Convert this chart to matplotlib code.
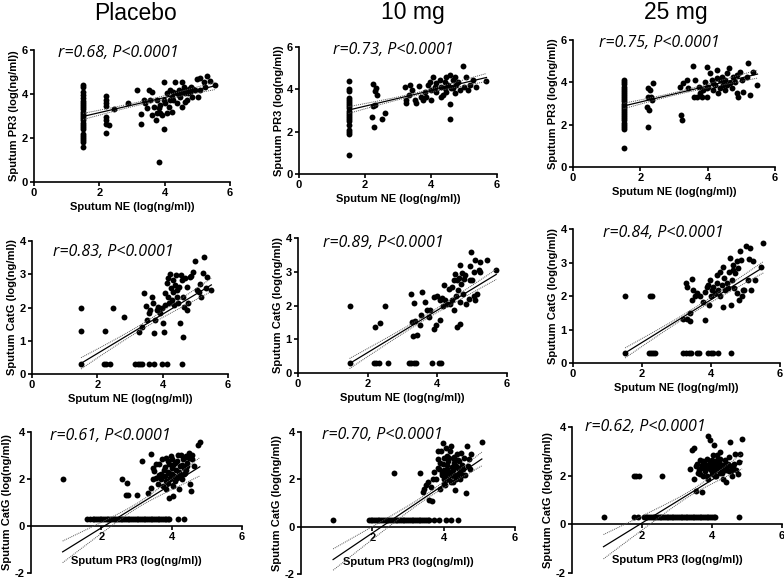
import numpy as np
import matplotlib
matplotlib.use('Agg')
import matplotlib.pyplot as plt

plt.rcParams['font.family'] = ['Liberation Sans', 'DejaVu Sans']
plt.rcParams['axes.unicode_minus'] = False

# titres des colonnes et textes des correlations
groupes = ['Placebo', '10 mg', '25 mg']
r_textes = [['r=0.68, P<0.0001', 'r=0.73, P<0.0001', 'r=0.75, P<0.0001'],
            ['r=0.83, P<0.0001', 'r=0.89, P<0.0001', 'r=0.84, P<0.0001'],
            ['r=0.61, P<0.0001', 'r=0.70, P<0.0001', 'r=0.62, P<0.0001']]
x_labels = ['Sputum NE (log(ng/ml))', 'Sputum NE (log(ng/ml))', 'Sputum PR3 (log(ng/ml))']
y_labels = ['Sputum PR3 (log(ng/ml))', 'Sputum CatG (log(ng/ml))', 'Sputum CatG (log(ng/ml))']

# ligne 1 : PR3 en fonction de NE
placebo_ne_pr3 = [
    (1.5, 4.4), (1.5, 4.3), (1.5, 4.1), (1.5, 3.95), (1.5, 3.8), (1.5, 3.7), (1.5, 3.6),
    (1.5, 3.5), (1.5, 3.4), (1.5, 3.3), (1.5, 3.2), (1.5, 3.1), (1.5, 3.0), (1.5, 2.9),
    (1.5, 2.8), (1.5, 2.7), (1.5, 2.6), (1.5, 2.5), (1.5, 2.4), (1.5, 2.2), (1.5, 2.1),
    (1.5, 2.0), (1.5, 1.9), (1.5, 1.8), (1.5, 1.6),
    (2.2, 3.9), (2.2, 3.75), (2.2, 3.6), (2.2, 3.45), (2.2, 2.95), (2.2, 2.8), (2.2, 2.65),
    (2.2, 2.25), (2.3, 2.6), (2.45, 3.3), (2.88, 3.58), (3.16, 4.18), (3.28, 3.07),
    (3.28, 2.64), (3.36, 3.73), (3.46, 3.35), (3.51, 4.18), (3.61, 4.1), (3.54, 3.73),
    (3.66, 3.43), (3.72, 2.8), (3.77, 3.73), (3.82, 3.35), (3.87, 3.13), (3.97, 4.53),
    (3.97, 3.73), (3.97, 2.4), (3.82, 0.9), (4.07, 4.03), (4.12, 3.43), (4.17, 3.73),
    (4.22, 3.88), (4.27, 4.1), (4.32, 4.56), (4.38, 3.58), (4.43, 4.18), (4.48, 3.88),
    (4.53, 4.56), (4.58, 4.33), (4.63, 4.03), (4.68, 3.73), (4.73, 4.25), (4.78, 4.1),
    (4.83, 3.88), (4.93, 4.18), (4.98, 4.66), (5.03, 3.88), (5.09, 4.74), (5.19, 4.56),
    (5.24, 4.33), (5.31, 4.81), (5.39, 4.59), (5.54, 4.41), (5.09, 4.18), (4.27, 3.73),
    (4.07, 3.13), (3.92, 3.05), (3.77, 3.13), (3.61, 3.05), (4.22, 3.2), (4.53, 3.43),
    (4.63, 3.65), (4.88, 4.25), (4.38, 4.03), (4.17, 4.18), (4.02, 3.58), (3.87, 3.5),
    (3.41, 3.58), (4.6, 4.2), (4.7, 4.05), (4.45, 3.95), (4.8, 4.3), (4.55, 4.1)]

dose10_ne_pr3 = [
    (1.5, 4.4), (1.5, 4.0), (1.5, 3.9), (1.5, 3.6), (1.5, 3.5), (1.5, 3.4), (1.5, 3.3),
    (1.5, 3.2), (1.5, 3.1), (1.5, 3.0), (1.5, 2.9), (1.5, 2.8), (1.5, 2.7), (1.5, 2.6),
    (1.5, 2.5), (1.5, 2.3), (1.5, 2.1), (1.5, 2.0), (1.5, 1.9), (1.5, 0.9),
    (2.24, 4.25), (2.29, 3.93), (2.34, 4.04), (2.36, 3.73), (2.29, 3.26), (2.22, 2.71),
    (2.26, 2.21), (2.53, 2.59), (2.6, 2.87), (2.24, 3.21),
    (3.22, 4.09), (3.25, 3.5), (3.25, 3.37), (3.33, 3.73), (3.35, 4.2), (3.43, 3.96),
    (3.51, 3.5), (3.56, 3.34), (3.64, 4.15), (3.71, 3.65), (3.76, 3.5), (3.81, 3.89),
    (3.86, 3.65), (3.91, 4.2), (3.96, 4.36), (4.01, 3.96), (4.06, 4.59), (4.11, 4.12),
    (4.16, 4.28), (4.26, 4.44), (4.31, 4.12), (4.36, 3.73), (4.41, 4.36), (4.46, 4.59),
    (4.52, 4.2), (4.57, 4.67), (4.59, 3.31), (4.59, 2.59), (4.62, 4.04), (4.67, 4.44),
    (4.72, 3.81), (4.77, 4.2), (4.87, 3.96), (4.97, 5.09), (4.99, 4.12), (5.07, 4.59),
    (5.12, 3.96), (5.27, 4.44), (5.37, 4.12), (5.68, 4.41), (4.46, 3.89), (4.31, 3.65),
    (4.16, 3.89), (4.01, 3.5), (4.82, 4.36), (5.17, 4.2), (4.67, 4.04), (4.41, 4.04),
    (4.72, 4.59)]

dose25_ne_pr3 = [
    (1.5, 4.1), (1.5, 4.0), (1.5, 3.9), (1.5, 3.8), (1.5, 3.7), (1.5, 3.6), (1.5, 3.5),
    (1.5, 3.4), (1.5, 3.3), (1.5, 3.2), (1.5, 3.1), (1.5, 3.0), (1.5, 2.9), (1.5, 2.8),
    (1.5, 2.7), (1.5, 2.6), (1.5, 2.5), (1.5, 2.4), (1.5, 2.3), (1.5, 2.2), (1.5, 2.1),
    (1.5, 2.0), (1.5, 1.9), (1.5, 1.8), (1.5, 0.9),
    (2.22, 3.74), (2.29, 3.63), (2.24, 3.32), (2.34, 3.16), (2.19, 2.84), (2.27, 2.69),
    (2.24, 1.9), (2.37, 3.98), (2.31, 3.32),
    (3.2, 2.45), (3.23, 2.24), (3.18, 3.79), (3.28, 3.95), (3.56, 4.77), (3.38, 4.11),
    (3.43, 3.71), (3.58, 3.32), (3.63, 4.11), (3.73, 3.79), (3.83, 3.32), (3.87, 3.63),
    (3.92, 4.03), (3.97, 4.74), (3.99, 3.32), (4.02, 3.79), (4.07, 4.42), (4.12, 4.11),
    (4.17, 3.63), (4.22, 3.87), (4.27, 4.58), (4.32, 3.48), (4.37, 4.11), (4.42, 4.27),
    (4.47, 3.87), (4.52, 3.63), (4.57, 4.42), (4.62, 4.66), (4.66, 3.95), (4.71, 3.71),
    (4.76, 4.27), (4.81, 4.03), (4.86, 3.48), (4.91, 3.32), (4.96, 4.5), (5.01, 4.11),
    (5.06, 3.55), (5.16, 4.27), (5.21, 4.9), (5.26, 3.4), (5.36, 4.5), (5.48, 3.87),
    (4.27, 4.19), (4.37, 3.71), (4.52, 4.11), (3.78, 3.48), (3.68, 3.32), (4.17, 3.95),
    (3.97, 3.71), (4.86, 4.34), (4.57, 3.87)]

# ligne 2 : CatG en fonction de NE
placebo_ne_catg = [
    (1.5, 0.3), (1.5, 1.3), (1.5, 2.0), (2.22, 1.3), (2.2, 0.3), (2.28, 0.3), (2.4, 0.3),
    (2.48, 2.0), (2.83, 1.7), (3.16, 0.3), (3.23, 0.3), (3.31, 0.3), (3.36, 0.3),
    (3.57, 0.3), (3.72, 0.3), (3.97, 0.3), (4.12, 0.3), (4.58, 0.3),
    (3.29, 1.27), (3.36, 1.42), (3.43, 2.43), (3.5, 2.05), (3.52, 1.62), (3.57, 1.82),
    (3.62, 1.92), (3.67, 2.31), (3.7, 2.15), (3.74, 1.22), (3.77, 1.62), (3.82, 1.92),
    (3.87, 2.03), (3.92, 1.82), (3.97, 1.97), (4.02, 1.52), (4.04, 1.27), (4.07, 2.08),
    (4.12, 2.73), (4.17, 2.33), (4.2, 2.13), (4.22, 3.01), (4.25, 2.58), (4.28, 2.23),
    (4.31, 2.83), (4.33, 2.48), (4.35, 2.08), (4.38, 2.68), (4.41, 2.98), (4.43, 2.33),
    (4.45, 2.53), (4.48, 2.13), (4.51, 2.63), (4.53, 1.52), (4.55, 2.98), (4.58, 2.83),
    (4.61, 2.33), (4.63, 1.12), (4.65, 2.03), (4.68, 2.88), (4.73, 2.63), (4.75, 1.92),
    (4.78, 2.13), (4.83, 2.91), (4.88, 2.95), (4.93, 3.08), (4.98, 3.41), (5.04, 2.53),
    (5.14, 2.71), (5.12, 2.48), (5.18, 2.33), (5.25, 3.53), (5.34, 2.58), (5.49, 2.53),
    (5.24, 3.03), (5.36, 2.93), (4.17, 2.88), (4.07, 2.43)]

dose10_ne_catg = [
    (1.48, 0.3), (1.48, 1.99), (2.22, 1.36), (2.36, 1.48), (2.49, 1.99),
    (2.17, 0.3), (2.25, 0.3), (2.32, 0.3), (2.58, 0.3), (3.18, 0.3), (3.24, 0.3),
    (3.32, 0.3), (3.4, 0.3), (3.85, 0.3), (4.04, 0.3), (4.11, 0.3),
    (3.25, 2.35), (3.32, 2.07), (3.27, 1.51), (3.37, 1.54), (3.3, 1.09), (3.42, 1.12),
    (3.51, 1.41), (3.53, 1.71), (3.56, 2.4), (3.66, 2.1), (3.7, 1.86), (3.75, 1.66),
    (3.8, 1.88), (3.9, 2.25), (3.91, 1.31), (3.97, 1.41), (3.99, 2.27), (4.07, 2.15),
    (4.09, 1.58), (4.13, 2.23), (4.16, 2.0), (4.18, 2.6), (4.23, 2.15), (4.28, 2.05),
    (4.33, 2.5), (4.37, 2.05), (4.42, 2.15), (4.47, 2.75), (4.49, 1.88), (4.52, 2.94),
    (4.55, 2.27), (4.56, 1.36), (4.58, 2.45), (4.61, 2.82), (4.64, 3.19), (4.66, 2.1),
    (4.66, 1.46), (4.68, 2.65), (4.71, 2.96), (4.74, 2.35), (4.76, 2.8), (4.83, 2.05),
    (4.9, 2.2), (4.93, 3.16), (4.95, 2.77), (4.97, 3.58), (5.0, 2.75), (5.04, 2.27),
    (5.06, 2.99), (5.09, 2.15), (5.09, 3.34), (5.14, 2.35), (5.19, 3.04), (5.23, 3.29),
    (5.23, 2.99), (5.43, 3.36), (5.69, 3.04), (4.56, 2.75), (4.42, 2.55), (4.78, 2.9)]

dose25_ne_catg = [
    (1.51, 0.3), (1.51, 1.99), (2.24, 1.99), (2.29, 1.99),
    (2.19, 0.3), (2.26, 0.3), (2.31, 0.3), (2.38, 0.3), (3.2, 0.3), (3.28, 0.3),
    (3.35, 0.3), (3.41, 0.3), (3.59, 0.3), (3.66, 0.3), (3.92, 0.3), (3.99, 0.3),
    (4.07, 0.3), (4.21, 0.3), (4.57, 0.3),
    (3.2, 1.31), (3.3, 1.31), (3.39, 1.24), (3.39, 1.49), (3.83, 1.29), (3.27, 2.4),
    (3.3, 2.28), (3.44, 2.5), (3.49, 2.18), (3.44, 1.89), (3.54, 1.99), (3.59, 2.08),
    (3.68, 2.0), (3.76, 1.81), (3.83, 2.13), (3.88, 2.28), (3.92, 2.33), (3.95, 1.74),
    (3.99, 2.0), (4.02, 2.18), (4.07, 2.28), (4.12, 2.08), (4.17, 2.38), (4.21, 2.18),
    (4.26, 1.99), (4.31, 2.33), (4.36, 1.67), (4.38, 2.53), (4.41, 2.18), (4.46, 2.38),
    (4.5, 2.23), (4.53, 2.73), (4.55, 3.13), (4.57, 1.74), (4.6, 2.48), (4.63, 2.78),
    (4.65, 2.93), (4.67, 2.23), (4.7, 2.68), (4.74, 2.08), (4.79, 2.83), (4.82, 1.89),
    (4.84, 3.33), (4.86, 3.08), (4.89, 1.99), (4.92, 2.18), (4.96, 2.18), (5.01, 3.49),
    (5.08, 2.48), (5.11, 3.1), (5.13, 3.43), (5.15, 2.18), (5.23, 3.03), (5.27, 2.48),
    (5.44, 2.88), (5.52, 3.57), (4.36, 2.88), (4.17, 2.63), (3.97, 2.48), (4.26, 2.73),
    (4.74, 3.03)]

# ligne 3 : CatG en fonction de PR3
placebo_pr3_catg = [
    (0.9, 2.0), (1.59, 0.3), (1.67, 0.3), (1.75, 0.3), (1.8, 0.3), (1.85, 0.3),
    (1.9, 0.3), (1.95, 0.3), (2.0, 0.3), (2.05, 0.3), (2.1, 0.3), (2.15, 0.3), (2.2, 0.3),
    (2.25, 0.3), (2.3, 0.3), (2.35, 0.3), (2.4, 0.3), (2.45, 0.3), (2.5, 0.3), (2.55, 0.3),
    (2.6, 0.3), (2.65, 0.3), (2.7, 0.3), (2.75, 0.3), (2.8, 0.3), (2.85, 0.3), (2.9, 0.3),
    (2.95, 0.3), (3.0, 0.3), (3.05, 0.3), (3.1, 0.3), (3.15, 0.3), (3.2, 0.3), (3.25, 0.3),
    (3.3, 0.3), (3.35, 0.3), (3.4, 0.3), (3.45, 0.3), (3.5, 0.3), (3.55, 0.3), (3.6, 0.3),
    (3.65, 0.3), (3.7, 0.3), (3.75, 0.3), (3.8, 0.3), (3.85, 0.3), (3.9, 0.3), (3.93, 0.3),
    (4.17, 0.3), (4.36, 0.3),
    (2.69, 1.3), (2.75, 1.3), (3.0, 1.3), (2.59, 2.0), (2.73, 1.82), (3.16, 2.76),
    (3.42, 3.08), (3.32, 1.41), (3.42, 1.63),
    (3.46, 1.98), (3.51, 2.33), (3.56, 2.05), (3.6, 1.77), (3.63, 2.19), (3.65, 2.62),
    (3.7, 1.98), (3.73, 2.83), (3.75, 1.7), (3.79, 2.4), (3.82, 2.12), (3.84, 2.9),
    (3.89, 1.84), (3.92, 2.62), (3.93, 2.26), (3.95, 1.98), (3.98, 2.97), (4.01, 2.47),
    (4.03, 1.7), (4.05, 1.27), (4.08, 2.12), (4.1, 2.69), (4.12, 2.4), (4.17, 3.04),
    (4.2, 1.56), (4.22, 2.12), (4.24, 2.54), (4.26, 3.04), (4.29, 1.98), (4.31, 2.83),
    (4.36, 2.47), (4.39, 2.26), (4.41, 2.97), (4.45, 2.69), (4.48, 3.11), (4.52, 1.77),
    (4.55, 1.48), (4.58, 2.83), (4.59, 3.04), (4.64, 2.54), (4.76, 3.46), (4.8, 3.56),
    (3.93, 1.2), (3.84, 1.56), (3.56, 2.62), (3.46, 2.47),
    (3.8, 2.5), (3.9, 2.3), (4.0, 2.2), (4.05, 2.6), (4.15, 2.75), (4.2, 2.3), (4.3, 2.6),
    (4.35, 2.9), (4.4, 2.4), (3.85, 1.9), (3.95, 2.05), (4.1, 1.9), (4.25, 2.15),
    (3.7, 2.2), (4.0, 2.85), (4.45, 2.55), (4.5, 2.9), (3.9, 2.75), (4.15, 2.05),
    (4.35, 2.2)]

dose10_pr3_catg = [
    (0.9, 0.3), (1.91, 0.3), (1.95, 0.3), (2.0, 0.3), (2.05, 0.3), (2.1, 0.3), (2.15, 0.3),
    (2.2, 0.3), (2.25, 0.3), (2.3, 0.3), (2.35, 0.3), (2.4, 0.3), (2.45, 0.3), (2.5, 0.3),
    (2.55, 0.3), (2.6, 0.3), (2.65, 0.3), (2.7, 0.3), (2.75, 0.3), (2.8, 0.3), (2.85, 0.3),
    (2.9, 0.3), (2.95, 0.3), (3.0, 0.3), (3.05, 0.3), (3.1, 0.3), (3.15, 0.3), (3.2, 0.3),
    (3.25, 0.3), (3.3, 0.3), (3.35, 0.3), (3.4, 0.3), (3.45, 0.3), (3.5, 0.3), (3.55, 0.3),
    (3.6, 0.3), (3.74, 0.3), (3.88, 0.3), (4.07, 0.3), (4.21, 0.3), (4.39, 0.3),
    (2.61, 2.26), (3.34, 2.26),
    (3.41, 1.48), (3.46, 1.61), (3.5, 1.75), (3.55, 1.89), (3.6, 1.13), (3.66, 1.09),
    (3.64, 1.68), (3.73, 2.33), (3.69, 2.03), (3.78, 2.03), (3.83, 2.86), (3.88, 2.44),
    (3.91, 1.61), (3.92, 3.2), (3.94, 2.17), (3.97, 2.65), (4.0, 2.03), (4.02, 2.92),
    (4.04, 1.75), (4.07, 3.34), (4.09, 2.44), (4.11, 2.03), (4.13, 2.79), (4.16, 2.3),
    (4.19, 3.2), (4.21, 3.41), (4.23, 2.51), (4.25, 1.89), (4.28, 2.86), (4.3, 2.17),
    (4.32, 1.54), (4.35, 2.58), (4.38, 3.06), (4.39, 2.24), (4.44, 2.79), (4.47, 2.03),
    (4.49, 3.13), (4.54, 2.44), (4.56, 2.92), (4.6, 2.17), (4.63, 1.41), (4.66, 3.41),
    (4.68, 2.58), (4.72, 2.86), (4.75, 2.44), (4.77, 3.06), (5.07, 3.59), (3.97, 3.55),
    (3.83, 3.2), (4.07, 2.24),
    (3.9, 2.7), (4.0, 2.4), (4.05, 2.1), (4.1, 2.6), (4.15, 2.9), (4.2, 2.2), (4.25, 2.4),
    (4.3, 2.7), (4.35, 2.0), (4.4, 2.5), (4.45, 2.3), (4.5, 2.6), (4.2, 1.9), (4.0, 1.8),
    (3.95, 2.25), (4.1, 3.0), (4.3, 2.95), (4.55, 2.2), (3.85, 2.5), (4.4, 2.8)]

dose25_pr3_catg = [
    (0.9, 0.3), (1.76, 0.3), (1.88, 0.3), (2.05, 0.3), (2.1, 0.3), (2.15, 0.3), (2.2, 0.3),
    (2.25, 0.3), (2.3, 0.3), (2.35, 0.3), (2.4, 0.3), (2.45, 0.3), (2.5, 0.3), (2.55, 0.3),
    (2.6, 0.3), (2.65, 0.3), (2.7, 0.3), (2.75, 0.3), (2.8, 0.3), (2.85, 0.3), (2.9, 0.3),
    (2.95, 0.3), (3.0, 0.3), (3.05, 0.3), (3.1, 0.3), (3.15, 0.3), (3.2, 0.3), (3.25, 0.3),
    (3.3, 0.3), (3.35, 0.3), (3.4, 0.3), (3.45, 0.3), (3.5, 0.3), (3.55, 0.3), (3.6, 0.3),
    (3.65, 0.3), (3.7, 0.3), (3.75, 0.3), (3.8, 0.3), (3.85, 0.3), (3.9, 0.3), (3.95, 0.3),
    (4.0, 0.3), (4.05, 0.3), (4.1, 0.3), (4.76, 0.3),
    (1.76, 2.0), (1.84, 2.0), (1.9, 2.0), (2.57, 2.0),
    (3.48, 3.12), (3.43, 3.06), (3.38, 2.28), (3.48, 1.85), (3.55, 1.37), (3.71, 1.31),
    (3.57, 2.5), (3.62, 2.25), (3.67, 2.63), (3.74, 1.99), (3.76, 2.38), (3.81, 2.18),
    (3.86, 2.69), (3.88, 3.64), (3.9, 1.85), (3.93, 2.5), (3.95, 3.45), (3.97, 2.25),
    (4.0, 2.05), (4.03, 2.83), (4.05, 2.42), (4.07, 3.25), (4.1, 2.25), (4.12, 1.99),
    (4.14, 2.63), (4.19, 2.36), (4.22, 2.96), (4.24, 2.12), (4.29, 2.42), (4.31, 1.85),
    (4.33, 2.25), (4.38, 2.63), (4.41, 1.72), (4.43, 2.38), (4.48, 2.18), (4.5, 2.76),
    (4.52, 3.39), (4.54, 2.38), (4.57, 1.99), (4.62, 2.5), (4.67, 2.9), (4.7, 2.25),
    (4.73, 2.05), (4.76, 2.56), (4.79, 2.9), (4.86, 3.49), (4.0, 2.63), (4.14, 2.83),
    (3.71, 2.42), (4.24, 2.69),
    (3.6, 2.1), (3.7, 2.3), (3.8, 2.5), (3.85, 2.0), (3.9, 2.3), (3.95, 2.6), (4.0, 2.4),
    (4.05, 2.15), (4.1, 2.5), (4.15, 2.3), (4.2, 2.55), (4.25, 2.3), (4.3, 2.1),
    (4.35, 2.45), (4.4, 2.25), (4.45, 2.5), (4.55, 2.2), (4.6, 2.35), (3.75, 2.6),
    (4.1, 2.0), (3.55, 2.4), (3.65, 2.05)]

donnees = [[placebo_ne_pr3, dose10_ne_pr3, dose25_ne_pr3],
           [placebo_ne_catg, dose10_ne_catg, dose25_ne_catg],
           [placebo_pr3_catg, dose10_pr3_catg, dose25_pr3_catg]]

# droites de regression : y au debut et a la fin
droite_debut = [[2.98, 3.02, 2.88], [0.32, 0.28, 0.30], [-1.10, -1.39, -0.92]]
droite_fin = [[4.37, 4.56, 4.39], [2.68, 2.92, 2.86], [2.52, 2.86, 2.59]]
# demi-largeur de l'IC 95% : a gauche, au plus etroit, a droite
ic_gauche = [[0.14, 0.16, 0.13], [0.17, 0.15, 0.15], [0.46, 0.45, 0.50]]
ic_milieu = [[0.07, 0.06, 0.06], [0.08, 0.06, 0.06], [0.10, 0.10, 0.10]]
ic_droite = [[0.17, 0.19, 0.19], [0.20, 0.15, 0.17], [0.39, 0.29, 0.31]]

# position des axes en pixels : gauche, droite, bas, haut
W, H = 784, 581
cadres = [[(34, 230, 182, 50), (299, 497, 174, 47), (573, 775, 167, 40)],
          [(32, 228, 374, 241), (298, 507, 373, 238), (573, 780, 363, 229)],
          [(31, 242, 573, 432), (301, 515, 574, 432), (572, 782, 573, 427)]]
# position du texte r= (bord gauche, centre vertical) en pixels
pos_r = [[(58, 53), (333, 50), (599, 43)],
         [(53, 252), (323, 243), (603, 233)],
         [(50, 436), (322, 435), (585, 427)]]
pos_titres = [(135, 13), (413, 12), (676, 12)]


def demi_largeur(xs, xg, xd, hg, hm, hd):
    # hyperbole passant par hg en xg, hd en xd, minimum hm
    a = hm ** 2
    rap = np.sqrt((hg ** 2 - a) / (hd ** 2 - a))
    c = (xg + rap * xd) / (1 + rap)
    b = (hd ** 2 - a) / (xd - c) ** 2
    return np.sqrt(a + b * (xs - c) ** 2)


fig = plt.figure(figsize=(W / 100, H / 100), dpi=100)

for j in range(3):
    fig.text(pos_titres[j][0] / W, 1 - pos_titres[j][1] / H, groupes[j],
             fontsize=16.5, ha='center', va='center')

for i in range(3):
    for j in range(3):
        g, d, b, h = cadres[i][j]
        ax = fig.add_axes([g / W, 1 - b / H, (d - g) / W, (b - h) / H])
        pts = np.array(donnees[i][j])
        x = pts[:, 0]
        y = pts[:, 1]
        ax.scatter(x, y, s=18, color='black', linewidths=0, zorder=3)

        # droite de regression et intervalle de confiance
        xs = np.linspace(x.min(), x.max(), 100)
        y0, y1 = droite_debut[i][j], droite_fin[i][j]
        ys = y0 + (y1 - y0) * (xs - xs[0]) / (xs[-1] - xs[0])
        demi = demi_largeur(xs, xs[0], xs[-1], ic_gauche[i][j], ic_milieu[i][j],
                            ic_droite[i][j])
        ax.plot(xs, ys, color='black', lw=0.9, zorder=4)
        ax.plot(xs, ys + demi, color='#555555', lw=0.7, ls=(0, (1, 1)), zorder=4)
        ax.plot(xs, ys - demi, color='#555555', lw=0.7, ls=(0, (1, 1)), zorder=4)

        ax.set_xlim(0, 6)
        if i == 0:
            ax.set_ylim(0, 6)
            ax.set_yticks([0, 2, 4, 6])
            ax.set_xticks([0, 2, 4, 6])
        elif i == 1:
            ax.set_ylim(0, 4)
            ax.set_yticks([0, 1, 2, 3, 4])
            ax.set_xticks([0, 2, 4, 6])
        else:
            ax.set_ylim(-2, 4)
            ax.set_yticks([-2, 0, 2, 4])
            ax.set_xticks([2, 4, 6])
            ax.spines['bottom'].set_position(('data', 0))

        ax.spines['top'].set_visible(False)
        ax.spines['right'].set_visible(False)
        ax.spines['left'].set_linewidth(1.2)
        ax.spines['bottom'].set_linewidth(1.2)
        ax.tick_params(direction='out', length=3, width=1.2, pad=1.5, labelsize=8)
        for lab in ax.get_xticklabels() + ax.get_yticklabels():
            lab.set_fontweight('bold')

        ax.set_xlabel(x_labels[i], fontsize=8, fontweight='bold', labelpad=3)
        ax.set_ylabel(y_labels[i], fontsize=8, fontweight='bold', labelpad=2)
        if i == 2:
            ax.xaxis.set_label_coords(0.5, 0.12)

        rx, ry = pos_r[i][j]
        fig.text(rx / W, 1 - ry / H, r_textes[i][j], fontsize=11.5,
                 family=['Open Sans', 'DejaVu Sans'], style='italic',
                 ha='left', va='center')

fig.savefig('out.png', dpi=100)
